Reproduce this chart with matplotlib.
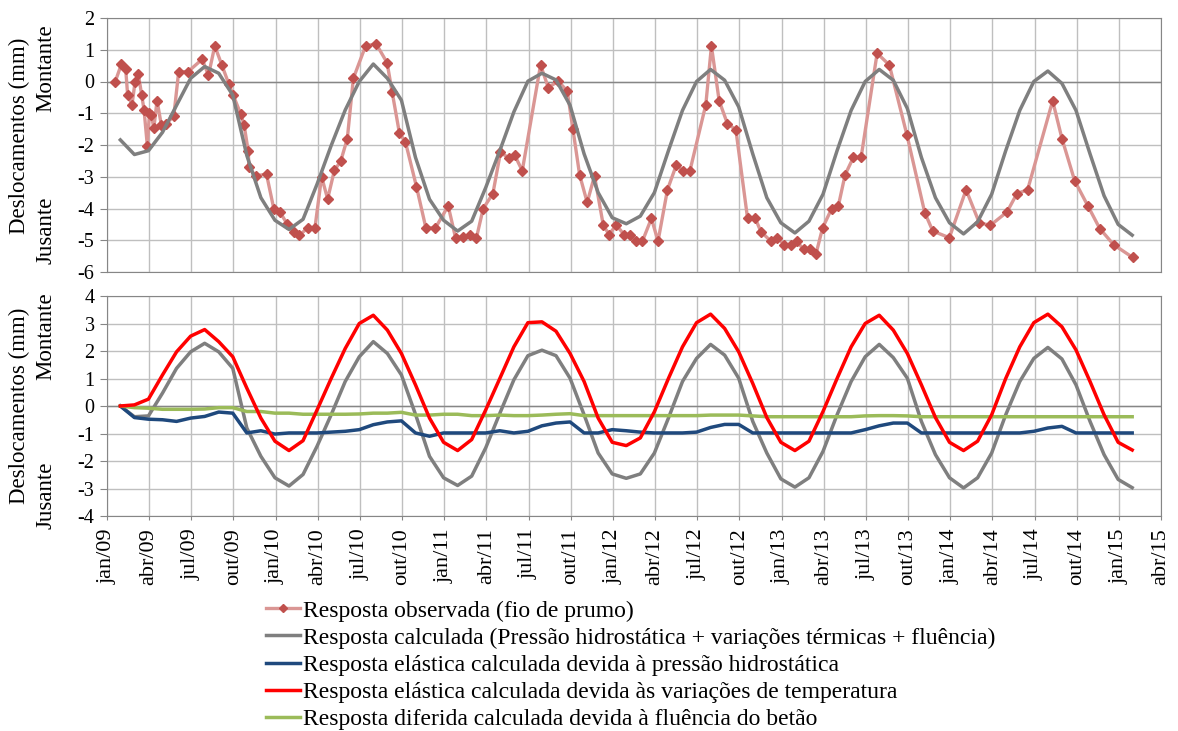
import numpy as np
import matplotlib.pyplot as plt

# plotting options
plt.rcParams["font.family"] = "serif"
plt.rcParams["font.serif"] = ["Liberation Serif", "DejaVu Serif"]
plt.rcParams["axes.unicode_minus"] = False

# observed response (fio de prumo): months since jan/09, displacement (mm)
obs_month = [0.59, 1.02, 1.33, 1.47, 1.78, 2.0, 2.23, 2.47, 2.64, 2.87,
             3.02, 3.16, 3.33, 3.56, 3.87, 4.18, 4.75, 5.1, 5.77, 6.77,
             7.22, 7.67, 8.17, 8.67, 8.98, 9.52, 9.76, 10.05, 10.1, 10.57,
             11.35, 11.88, 12.3, 12.83, 13.3, 13.68, 14.3, 14.8, 15.27, 15.7,
             16.18, 16.63, 17.1, 17.53, 18.4, 19.15, 19.93, 20.29, 20.81, 21.24,
             22.02, 22.69, 23.37, 24.28, 24.8, 25.34, 25.82, 26.29, 26.77, 27.46,
             28.0, 28.6, 29.02, 29.55, 30.85, 31.4, 32.11, 32.75, 33.15, 33.63,
             34.17, 34.69, 35.31, 35.72, 36.24, 36.79, 37.22, 37.62, 38.1, 38.74,
             39.21, 39.88, 40.52, 41.0, 41.47, 42.61, 43.01, 43.56, 44.15, 44.75,
             45.58, 46.13, 46.53, 47.24, 47.71, 48.19, 48.67, 49.07, 49.57, 50.05,
             50.45, 50.92, 51.57, 52.04, 52.52, 53.11, 53.66, 54.8, 55.67, 56.93,
             58.19, 58.76, 59.94, 61.13, 62.07, 62.86, 64.04, 64.75, 65.51, 67.29,
             67.96, 68.86, 69.8, 70.64, 71.63, 72.98]
obs_disp = [0.0, 0.54, 0.39, -0.43, -0.73, 0.0, 0.23, -0.43, -0.91, -2.02,
            -1.0, -1.05, -1.48, -0.6, -1.38, -1.33, -1.1, 0.31, 0.31, 0.70,
            0.20, 1.12, 0.52, -0.08, -0.43, -1.03, -1.38, -2.2, -2.7, -2.97,
            -2.92, -4.03, -4.1, -4.5, -4.74, -4.85, -4.6, -4.6, -3.0, -3.7,
            -2.8, -2.51, -1.8, 0.1, 1.12, 1.19, 0.59, -0.33, -1.63, -1.91,
            -3.31, -4.61, -4.61, -3.92, -4.92, -4.9, -4.85, -4.92, -4.0, -3.53,
            -2.23, -2.41, -2.33, -2.81, 0.52, -0.19, 0.01, -0.30, -1.49, -2.94,
            -3.81, -2.97, -4.52, -4.82, -4.52, -4.82, -4.82, -5.03, -5.03, -4.31,
            -5.03, -3.41, -2.62, -2.83, -2.83, -0.73, 1.12, -0.61, -1.33, -1.52,
            -4.31, -4.31, -4.73, -5.03, -4.92, -5.14, -5.14, -5.03, -5.29, -5.29,
            -5.43, -4.61, -4.0, -3.92, -2.94, -2.39, -2.39, 0.89, 0.52, -1.70,
            -4.13, -4.71, -4.92, -3.41, -4.45, -4.53, -4.11, -3.53, -3.41, -0.61,
            -1.81, -3.13, -3.92, -4.63, -5.14, -5.54]

# calculated responses, one value at the end of each month (jan/09 .. jan/15)
calc_top = [-1.84, -2.30, -2.18, -1.6, -0.75, 0.1, 0.47, 0.26, -0.43, -2.33, -3.66, -4.37,
            -4.66, -4.34, -3.23, -2.02, -0.9, 0.0, 0.55, 0.1, -0.59, -2.39, -3.71, -4.37,
            -4.71, -4.4, -3.34, -2.18, -0.96, 0.01, 0.26, 0.05, -0.75, -2.28, -3.5, -4.29,
            -4.48, -4.24, -3.5, -2.18, -0.91, 0.0, 0.38, 0.04, -0.8, -2.28, -3.66, -4.45,
            -4.77, -4.4, -3.55, -2.18, -0.91, 0.0, 0.38, 0.04, -0.85, -2.39, -3.66, -4.45,
            -4.80, -4.42, -3.55, -2.18, -0.91, 0.0, 0.33, -0.06, -0.91, -2.28, -3.6, -4.5,
            -4.84]
calc_total = [0.0, -0.39, -0.36, 0.47, 1.37, 1.97, 2.28, 1.97, 1.37, -0.8, -1.83, -2.61,
              -2.91, -2.49, -1.46, -0.32, 0.89, 1.79, 2.34, 1.91, 1.13, -0.3, -1.83, -2.61,
              -2.89, -2.55, -1.52, -0.27, 0.95, 1.83, 2.03, 1.83, 1.01, -0.32, -1.71, -2.47,
              -2.63, -2.47, -1.71, -0.44, 0.89, 1.73, 2.24, 1.85, 1.01, -0.56, -1.71, -2.65,
              -2.95, -2.61, -1.65, -0.32, 0.89, 1.79, 2.24, 1.76, 1.01, -0.56, -1.77, -2.61,
              -2.98, -2.61, -1.71, -0.32, 0.89, 1.73, 2.13, 1.71, 0.77, -0.56, -1.77, -2.67,
              -2.97]
calc_hydro = [0.0, -0.42, -0.48, -0.5, -0.56, -0.44, -0.38, -0.22, -0.26, -0.98, -0.9, -1.02,
              -0.98, -0.98, -0.98, -0.95, -0.92, -0.86, -0.68, -0.58, -0.54, -0.98, -1.1, -0.98,
              -0.98, -0.98, -0.98, -0.9, -0.98, -0.92, -0.72, -0.62, -0.58, -0.98, -0.98, -0.86,
              -0.9, -0.95, -0.98, -0.98, -0.98, -0.95, -0.78, -0.67, -0.67, -0.98, -0.98, -0.98,
              -0.98, -0.98, -0.98, -0.98, -0.98, -0.86, -0.72, -0.62, -0.62, -0.98, -0.98, -0.98,
              -0.98, -0.98, -0.98, -0.98, -0.98, -0.92, -0.8, -0.74, -0.98, -0.98, -0.98, -0.98,
              -0.98]
calc_temp = [0.0, 0.04, 0.25, 1.13, 1.97, 2.54, 2.78, 2.34, 1.79, 0.65, -0.44, -1.28,
             -1.62, -1.26, -0.14, 1.0, 2.09, 3.0, 3.30, 2.76, 1.91, 0.77, -0.44, -1.32,
             -1.62, -1.22, -0.14, 1.0, 2.15, 3.03, 3.06, 2.72, 1.91, 0.89, -0.44, -1.32,
             -1.44, -1.16, -0.21, 1.0, 2.15, 3.03, 3.34, 2.82, 1.97, 0.82, -0.42, -1.32,
             -1.62, -1.28, -0.2, 1.0, 2.15, 3.0, 3.30, 2.76, 1.91, 0.77, -0.42, -1.32,
             -1.62, -1.28, -0.32, 1.0, 2.15, 3.03, 3.34, 2.88, 2.04, 0.89, -0.32, -1.32,
             -1.6]
calc_creep = [0.0, -0.06, -0.08, -0.12, -0.12, -0.12, -0.11, -0.06, -0.06, -0.2, -0.2, -0.26,
              -0.26, -0.3, -0.3, -0.3, -0.3, -0.29, -0.26, -0.26, -0.23, -0.33, -0.33, -0.3,
              -0.3, -0.35, -0.35, -0.33, -0.35, -0.35, -0.33, -0.3, -0.28, -0.35, -0.35, -0.35,
              -0.35, -0.35, -0.35, -0.35, -0.35, -0.35, -0.33, -0.33, -0.33, -0.36, -0.39, -0.39,
              -0.39, -0.39, -0.39, -0.39, -0.39, -0.36, -0.35, -0.35, -0.36, -0.39, -0.39, -0.39,
              -0.39, -0.39, -0.39, -0.39, -0.39, -0.39, -0.39, -0.39, -0.39, -0.39, -0.39, -0.39,
              -0.39]

tick_labels = ['jan/09', 'abr/09', 'jul/09', 'out/09', 'jan/10', 'abr/10', 'jul/10', 'out/10',
               'jan/11', 'abr/11', 'jul/11', 'out/11', 'jan/12', 'abr/12', 'jul/12', 'out/12',
               'jan/13', 'abr/13', 'jul/13', 'out/13', 'jan/14', 'abr/14', 'jul/14', 'out/14',
               'jan/15', 'abr/15']

labels = ['Resposta observada (fio de prumo)',
          'Resposta calculada (Pressão hidrostática + variações térmicas + fluência)',
          'Resposta elástica calculada devida à pressão hidrostática',
          'Resposta elástica calculada devida às variações de temperatura',
          'Resposta diferida calculada devida à fluência do betão']

# month-end time of the calculated series (months since 1 jan 2009)
t_calc = np.arange(1, len(calc_top) + 1) - 0.05
ticks = np.arange(len(tick_labels)) * 3

W, H = 1178, 731
fig = plt.figure(figsize=(W / 100, H / 100), dpi=100)
left, right = 107 / W, 1161 / W
ax1 = fig.add_axes([left, 1 - 272 / H, right - left, (272 - 18) / H])
ax2 = fig.add_axes([left, 1 - 516 / H, right - left, (516 - 296) / H])

GRID = '#BFBFBF'
AXC = '#868686'
for ax in (ax1, ax2):
    ax.set_xlim(0, 75)
    ax.set_xticks(ticks)
    ax.grid(True, color=GRID, lw=1.0)
    ax.set_axisbelow(True)
    for s in ax.spines.values():
        s.set_color(AXC)
    ax.axhline(0, color=AXC, lw=1.0, zorder=1)
    ax.tick_params(axis='y', direction='out', length=5, color=AXC, labelsize=14.5, pad=4)

ax1.set_ylim(-6, 2)
ax1.set_yticks(range(-6, 3))
ax1.tick_params(axis='x', length=0, labelbottom=False)

ax2.set_ylim(-4, 4)
ax2.set_yticks(range(-4, 5))
ax2.set_xticklabels(tick_labels, rotation=90)
ax2.tick_params(axis='x', direction='out', length=3, color=AXC, labelsize=16, pad=6)

# top: observed vs calculated
h_obs, = ax1.plot(obs_month, obs_disp, color='#DA9694', lw=2.4, marker='D', ms=5,
                  mfc='#C0504D', mec='#C0504D', zorder=3)
h_calc, = ax1.plot(t_calc, calc_top, color='#7F7F7F', lw=2.5, zorder=4)

# bottom: calculated components
ax2.plot(t_calc, calc_total, color='#7F7F7F', lw=2.5, zorder=3)
h_hyd, = ax2.plot(t_calc, calc_hydro, color='#1F497D', lw=2.5, zorder=4)
h_tmp, = ax2.plot(t_calc, calc_temp, color='#FF0000', lw=2.5, zorder=5)
h_crp, = ax2.plot(t_calc, calc_creep, color='#9BBB59', lw=2.5, zorder=4)

# y labels (Excel style, with Montante / Jusante)
for yc, ym, yj in ((136, 68, 230), (406, 336, 495)):
    fig.text(19 / W, 1 - yc / H, 'Deslocamentos (mm)', rotation=90, ha='center', va='center', fontsize=16.5)
    fig.text(46 / W, 1 - ym / H, 'Montante', rotation=90, ha='center', va='center', fontsize=16.5)
    fig.text(46 / W, 1 - yj / H, 'Jusante', rotation=90, ha='center', va='center', fontsize=16.5)

fig.legend([h_obs, h_calc, h_hyd, h_tmp, h_crp], labels, loc='upper left',
           bbox_to_anchor=(266 / W, 1 - 600 / H), frameon=False, fontsize=17,
           handlelength=1.45, handletextpad=0.1, labelspacing=0.24, markerscale=0.8,
           borderaxespad=0, borderpad=0)

fig.savefig('out.png', dpi=100)
